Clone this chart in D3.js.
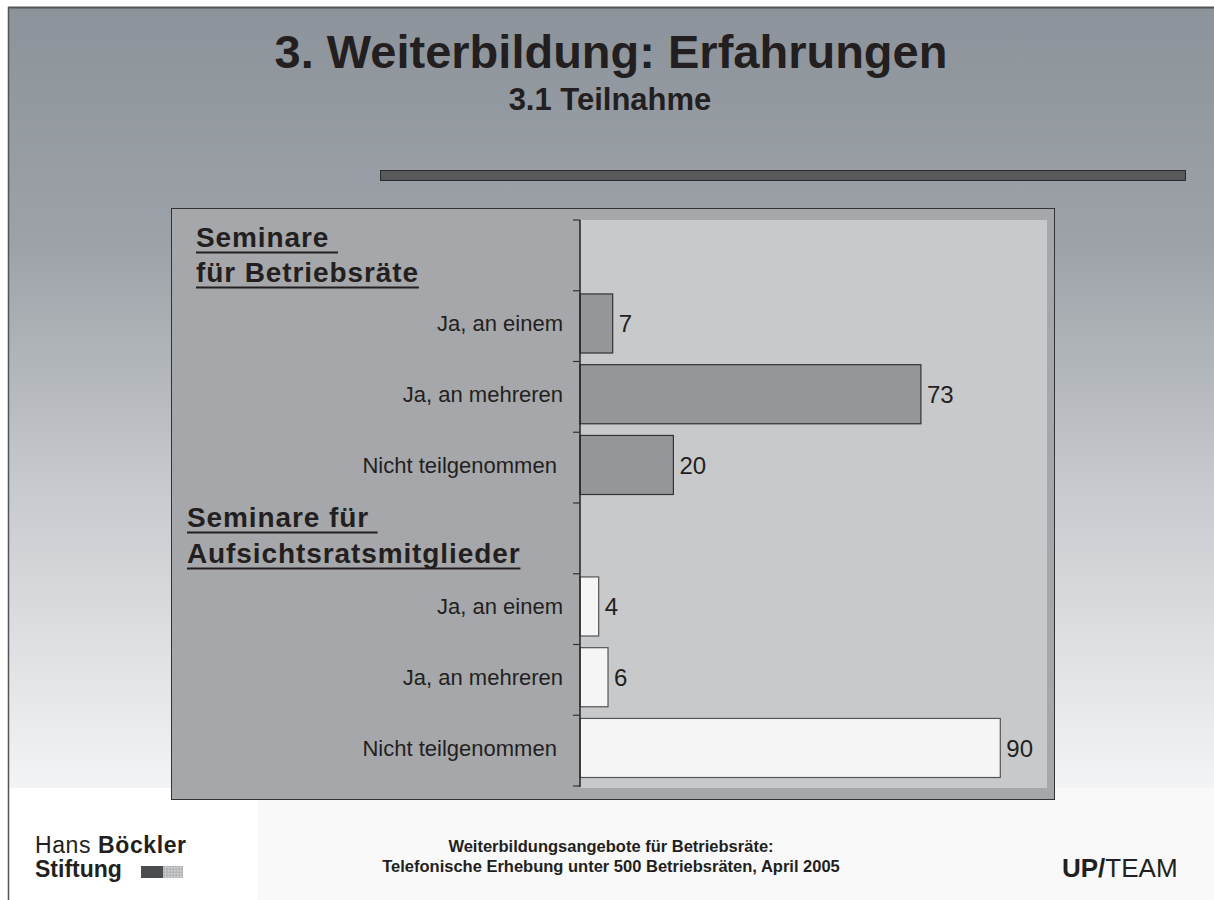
<!DOCTYPE html>
<html>
<head>
<meta charset="utf-8">
<script src="https://cdn.jsdelivr.net/npm/d3@7"></script>
<style>
  body { margin: 0; background: #fff; }
  svg { display: block; }
  svg text { font-family: "Liberation Sans", Arimo, Arial, Helvetica, sans-serif; }
</style>
</head>
<body>
<svg id="chart" width="1214" height="900"></svg>
<script>
// categories, top to bottom; the headers are empty rows on the axis
const categories = ["h1", "a1", "a2", "a3", "h2", "b1", "b2", "b3"];
const categoryLabels = ["", "Ja, an einem", "Ja, an mehreren", "Nicht teilgenommen ", "", "Ja, an einem", "Ja, an mehreren", "Nicht teilgenommen "];
const values = [null, 7, 73, 20, null, 4, 6, 90];
const groupOf = [0, 0, 0, 0, 1, 1, 1, 1];
const headers = [["Seminare ", "für Betriebsräte"], ["Seminare für ", "Aufsichtsratsmitglieder"]];
const footerLines = ["Weiterbildungsangebote für Betriebsräte:", "Telefonische Erhebung unter 500 Betriebsräten, April 2005"];

const svg = d3.select("#chart");

// slide background gradient
const defs = svg.append("defs");
const grad = defs.append("linearGradient").attr("id", "bg").attr("x1", 0).attr("y1", 0).attr("x2", 0).attr("y2", 1);
grad.append("stop").attr("offset", "0%").attr("stop-color", "#8d939a");
grad.append("stop").attr("offset", "30%").attr("stop-color", "#9ca2a8");
grad.append("stop").attr("offset", "60%").attr("stop-color", "#c5c8cc");
grad.append("stop").attr("offset", "100%").attr("stop-color", "#f3f4f6");

// little dotted pattern for the logo square
const pat = defs.append("pattern").attr("id", "dots").attr("width", 3).attr("height", 3).attr("patternUnits", "userSpaceOnUse");
pat.append("rect").attr("width", 3).attr("height", 3).attr("fill", "#b4b6b8");
pat.append("rect").attr("width", 1.5).attr("height", 1.5).attr("fill", "#d4d6d8");

svg.append("rect").attr("x", 8).attr("y", 8).attr("width", 1206).attr("height", 780).attr("fill", "url(#bg)");
svg.append("rect").attr("x", 258).attr("y", 788).attr("width", 956).attr("height", 112).attr("fill", "#f9f9f9");
svg.append("line").attr("x1", 8).attr("y1", 7.5).attr("x2", 1214).attr("y2", 7.5).attr("stroke", "#555").attr("stroke-width", 2);
svg.append("line").attr("x1", 8.5).attr("y1", 7).attr("x2", 8.5).attr("y2", 900).attr("stroke", "#555").attr("stroke-width", 1.5);

// title
svg.append("text").attr("x", 611).attr("y", 68).attr("text-anchor", "middle")
  .attr("font-size", 47).attr("font-weight", "bold").attr("fill", "#231f20")
  .text("3. Weiterbildung: Erfahrungen");
svg.append("text").attr("x", 610).attr("y", 110).attr("text-anchor", "middle")
  .attr("font-size", 31).attr("font-weight", "bold").attr("fill", "#231f20")
  .text("3.1 Teilnahme");

// decorative bar
svg.append("rect").attr("x", 380.5).attr("y", 170.5).attr("width", 805).attr("height", 10)
  .attr("fill", "#58595b").attr("stroke", "#2a2a2a");

// chart panel
svg.append("rect").attr("x", 171.5).attr("y", 208.5).attr("width", 883).attr("height", 591)
  .attr("fill", "#a6a7aa").attr("stroke", "#333");

const x = d3.scaleLinear().domain([0, 100]).range([580, 1047]);
const y = d3.scaleBand().domain(categories).range([220, 786]).padding(0);
const bw = y.bandwidth();
const barTop = d => y(d.c) + bw * 0.045;
const barH = bw * 0.835;

svg.append("rect").attr("x", 580).attr("y", 220).attr("width", 467).attr("height", 568).attr("fill", "#c8c9cb");

const fills = ["#959699", "#f4f5f4"];
const strokes = ["#333", "#555"];

const rows = categories.map((c, i) => ({ c, label: categoryLabels[i], v: values[i], g: groupOf[i] }));

svg.selectAll(".bar").data(rows.filter(d => d.v !== null)).enter().append("rect")
  .attr("class", "bar")
  .attr("x", x(0))
  .attr("y", barTop)
  .attr("width", d => x(d.v) - x(0))
  .attr("height", barH)
  .attr("fill", d => fills[d.g])
  .attr("stroke", d => strokes[d.g])
  .attr("stroke-width", 1.2);

svg.selectAll(".val").data(rows.filter(d => d.v !== null)).enter().append("text")
  .attr("class", "val")
  .attr("x", d => x(d.v) + 6)
  .attr("y", d => barTop(d) + barH / 2 + 9)
  .attr("font-size", 24).attr("fill", "#231f20")
  .text(d => d.v);

// axis with ticks at the band boundaries
const bounds = categories.map(c => y(c)).concat([y.range()[1]]);
svg.append("line").attr("x1", 580).attr("y1", 220).attr("x2", 580).attr("y2", 787).attr("stroke", "#222").attr("stroke-width", 1.5);
svg.selectAll(".tick").data(bounds).enter().append("line")
  .attr("x1", 573).attr("x2", 580).attr("y1", d => d).attr("y2", d => d)
  .attr("stroke", "#333").attr("stroke-width", 1.2);

svg.selectAll(".cat").data(rows.filter(d => d.label)).enter().append("text")
  .attr("class", "cat")
  .attr("x", 563)
  .attr("y", d => barTop(d) + barH / 2 + 8)
  .attr("text-anchor", "end")
  .attr("xml:space", "preserve")
  .attr("font-size", 22).attr("fill", "#231f20")
  .text(d => d.label);

// group headers, underlined
const headerPos = [{ x: 196, y: [247, 282] }, { x: 187, y: [527, 563] }];
headers.forEach((lines, gi) => {
  lines.forEach((t, li) => {
    const tx = svg.append("text").attr("x", headerPos[gi].x).attr("y", headerPos[gi].y[li])
      .attr("font-size", 28).attr("font-weight", "bold").attr("letter-spacing", 0.9)
      .attr("fill", "#231f20").attr("xml:space", "preserve")
      .text(t);
    const w = tx.node().getComputedTextLength();
    svg.append("line").attr("x1", headerPos[gi].x).attr("x2", headerPos[gi].x + w)
      .attr("y1", headerPos[gi].y[li] + 5.5).attr("y2", headerPos[gi].y[li] + 5.5)
      .attr("stroke", "#231f20").attr("stroke-width", 2);
  });
});

// footer
const hb = svg.append("text").attr("x", 35).attr("y", 853).attr("font-size", 23).attr("letter-spacing", 0.6).attr("fill", "#231f20");
hb.append("tspan").text("Hans ");
hb.append("tspan").attr("font-weight", "bold").text("Böckler");
svg.append("text").attr("x", 35).attr("y", 877).attr("font-size", 23).attr("font-weight", "bold").attr("fill", "#231f20").text("Stiftung");
svg.append("rect").attr("x", 141).attr("y", 866).attr("width", 22).attr("height", 12).attr("fill", "#4a4c4e");
svg.append("rect").attr("x", 163).attr("y", 866).attr("width", 20).attr("height", 12).attr("fill", "url(#dots)");

footerLines.forEach((t, i) => {
  svg.append("text").attr("x", 611).attr("y", 852 + i * 20).attr("text-anchor", "middle")
    .attr("font-size", 16.5).attr("font-weight", "bold").attr("fill", "#231f20").text(t);
});

const up = svg.append("text").attr("x", 1062).attr("y", 877).attr("font-size", 26).attr("fill", "#231f20");
up.append("tspan").attr("font-weight", "bold").text("UP/");
up.append("tspan").text("TEAM");
</script>
</body>
</html>
